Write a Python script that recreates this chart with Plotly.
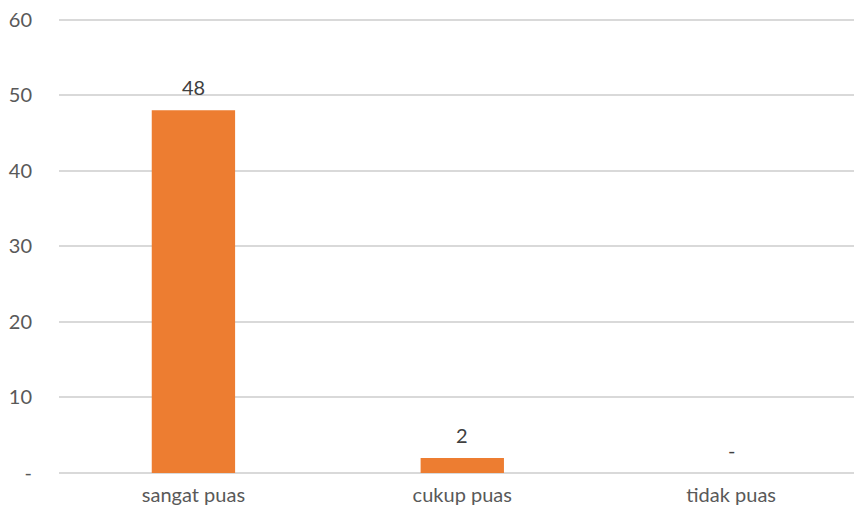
import plotly.graph_objects as go

categories = ["sangat puas", "cukup puas", "tidak puas"]
values = [48, 2, 0]
y_tickvals = [0, 10, 20, 30, 40, 50, 60]
y_ticktext = ["-", "10", "20", "30", "40", "50", "60"]
labels = [str(v) if v else "-" for v in values]

font_family = "Lato, Open Sans, sans-serif"
text_color = "#595959"

fig = go.Figure(go.Bar(
    x=categories, y=values,
    marker=dict(color="#ED7D31", line=dict(width=0)),
    width=0.31,
))

for c, v, t in zip(categories, values, labels):
    fig.add_annotation(x=c, y=v, text=t, showarrow=False, yanchor="middle",
                       yshift=23, font=dict(family=font_family, size=20, color="#404040"))

fig.update_layout(
    width=854, height=515,
    margin=dict(l=59, r=0, t=18, b=42),
    plot_bgcolor="white", paper_bgcolor="white",
    showlegend=False,
    font=dict(family=font_family, size=20, color=text_color),
    xaxis=dict(range=[-0.5, 2.457], showgrid=False, showline=False,
               ticks="", ticklabelstandoff=8, tickfont=dict(size=20, color=text_color)),
    yaxis=dict(range=[0, 60.2], tickvals=y_tickvals, ticktext=y_ticktext,
               showgrid=True, gridcolor="#d9d9d9", gridwidth=1.5,
               zeroline=True, zerolinecolor="#d9d9d9", zerolinewidth=1.5,
               showline=False, ticks="", ticklabelstandoff=26,
               tickfont=dict(size=20, color=text_color)),
)

fig.write_html("out.html")
